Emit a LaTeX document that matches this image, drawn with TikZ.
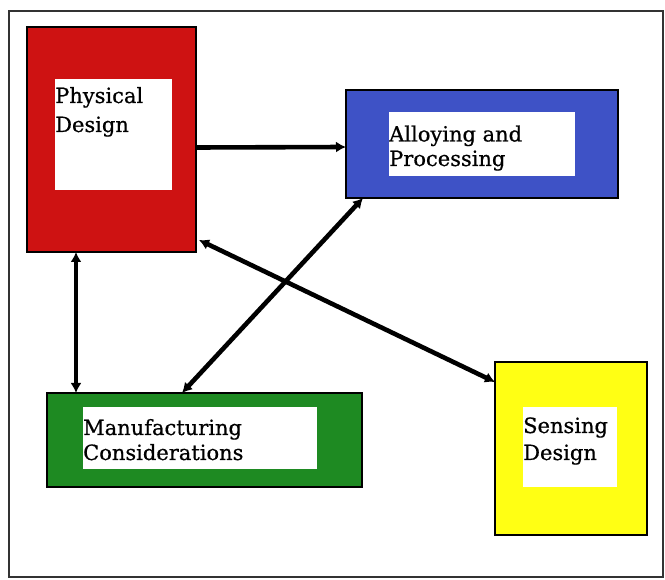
\documentclass[tikz,border=0pt]{standalone}
\usepackage{fontspec}
\setmainfont{DejaVu Serif}
\newfontfamily\lblfont{DejaVu Serif}[FakeBold=0.7]
\usetikzlibrary{arrows.meta,calc}
\definecolor{cred}{RGB}{206,18,18}
\definecolor{cblue}{RGB}{62,82,198}
\definecolor{cgreen}{RGB}{30,138,34}
\definecolor{cyellow}{RGB}{255,255,20}
\tikzset{
  outerbox/.style={draw=black,line width=1.5pt,anchor=north west,inner sep=0pt,outer sep=0pt},
  innerbox/.style={fill=white,draw=none,anchor=north west,inner sep=0pt,outer sep=0pt},
  lbl/.style={anchor=base west,align=left,inner sep=0pt,text=black},
  conn/.style={line width=4.6pt,black}
}
\begin{document}
\begin{tikzpicture}[x=1pt,y=-1pt]
\useasboundingbox (0,0) rectangle (665,580);
\draw[line width=1.2pt,black!80] (9,11) rectangle (663,577);
% boxes
\node[outerbox,fill=cred,minimum width=169pt,minimum height=225pt] (red) at (27,27) {};
\node[innerbox,minimum width=117pt,minimum height=111pt] (redin) at (55,79) {};
\node[outerbox,fill=cblue,minimum width=272pt,minimum height=108pt] (blue) at (346,90) {};
\node[innerbox,minimum width=186pt,minimum height=64pt] (bluein) at (389,112) {};
\node[outerbox,fill=cgreen,minimum width=315pt,minimum height=94pt] (green) at (47,393) {};
\node[innerbox,minimum width=234pt,minimum height=62pt] (greenin) at (83,407) {};
\node[outerbox,fill=cyellow,minimum width=152pt,minimum height=173pt] (yellow) at (495,362) {};
\node[innerbox,minimum width=94pt,minimum height=80pt] (yellowin) at (523,407) {};
% labels (anchor = baseline of last line)
\node[lbl,font=\lblfont\fontsize{21}{29}\selectfont] (tred) at (55,132) {Physical\\Design};
\node[lbl,font=\lblfont\fontsize{21}{24.5}\selectfont] (tblue) at (389,166) {Alloying and\\Processing};
\node[lbl,font=\lblfont\fontsize{21}{25}\selectfont] (tgreen) at (83,460) {Manufacturing\\Considerations};
\node[lbl,font=\lblfont\fontsize{21}{27}\selectfont] (tyellow) at (523,460) {Sensing\\Design};
% connectors
\draw[conn,-{Latex[length=10pt,width=11pt]}] ([shift={(0,8)}]red.east) -- ([shift={(0,3)}]blue.west);
\draw[conn,{Latex[length=10pt,width=11pt]}-{Latex[length=10pt,width=11pt]}] ([shift={(49,0)}]red.south west) -- ([shift={(29,0)}]green.north west);
\draw[conn,{Latex[length=10pt,width=11pt]}-{Latex[length=10pt,width=11pt]}] ([shift={(17,0)}]blue.south west) -- ([shift={(135,0)}]green.north west);
\draw[conn,{Latex[length=10pt,width=11pt]}-{Latex[length=10pt,width=11pt]}] ([shift={(3,-12)}]red.south east) -- ([shift={(0,20)}]yellow.north west);
\end{tikzpicture}
\end{document}
